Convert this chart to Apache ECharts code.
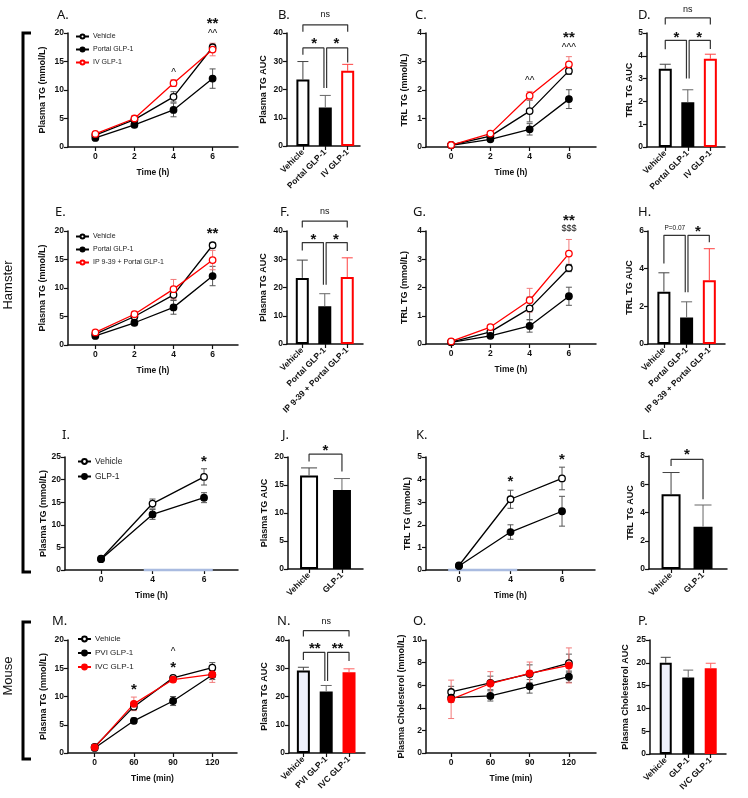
<!DOCTYPE html>
<html><head><meta charset="utf-8">
<script src="https://cdn.jsdelivr.net/npm/echarts@6/dist/echarts.min.js"></script>
<style>html,body{margin:0;padding:0;background:#fff}#c{width:748px;height:798px}</style>
</head><body><div id="c"></div>
<script>
// ---------------- DATA ----------------
// Panel A: Plasma TG (mmol/L) vs time (h)
const timeH = ['0', '2', '4', '6'];
const aVeh = [2.1, 4.8, 8.8, 17.5],   aVehErr = [0.3, 0.5, 0.9, 0.4];
const aPortal = [1.6, 3.9, 6.5, 12.0], aPortalErr = [0.2, 0.5, 1.2, 1.7];
const aIV = [2.3, 5.0, 11.2, 17.1],   aIVErr = [0.2, 0.5, 0.6, 1.1];
const aMarks = [[2, 13.4, '^'], [3, 22.3, '**'], [3, 20.2, '^^']];
// Panel B: Plasma TG AUC
const bCats = ['Vehicle', 'Portal GLP-1', 'IV GLP-1'];
const bAUC = [23.5, 13.6, 26.6], bErr = [6.4, 4.3, 2.3];
const bBrackets = [[[0, 40.4], [0, 42.9], [2, 42.9], [2, 40.4]],
                   [[0, 32.3], [0, 34.7], [0.94, 34.7], [0.94, 20.5]],
                   [[1.06, 20.5], [1.06, 34.7], [2, 34.7], [2, 29.6]]];
const bMarks = [[1, 46.5, 'ns'], [0.5, 37.5, '*'], [1.5, 37.5, '*']];
// Panel C: TRL TG (mmol/L)
const cVeh = [0.07, 0.38, 1.26, 2.67],    cVehErr = [0.03, 0.05, 0.38, 0.12];
const cPortal = [0.06, 0.27, 0.62, 1.68], cPortalErr = [0.02, 0.05, 0.2, 0.33];
const cIV = [0.07, 0.47, 1.8, 2.9],       cIVErr = [0.03, 0.05, 0.15, 0.27];
const cMarks = [[2, 2.4, '^^'], [3, 3.95, '**'], [3, 3.55, '^^^']];
// Panel D: TRL TG AUC
const dAUC = [3.43, 1.96, 3.87], dErr = [0.2, 0.55, 0.2];
const dBrackets = [[[0, 5.37], [0, 5.66], [2, 5.66], [2, 5.37]],
                   [[0, 4.29], [0, 4.68], [0.94, 4.68], [0.94, 3.0]],
                   [[1.06, 3.0], [1.06, 4.68], [2, 4.68], [2, 4.3]]];
const dMarks = [[1, 6.05, 'ns'], [0.5, 4.95, '*'], [1.5, 4.95, '*']];
// Panel E
const eVeh = [1.9, 5.0, 8.8, 17.5],    eVehErr = [0.3, 0.4, 0.9, 0.4];
const ePortal = [1.6, 3.9, 6.6, 12.1], ePortalErr = [0.2, 0.5, 1.2, 1.7];
const eIP = [2.2, 5.4, 9.8, 14.9],     eIPErr = [0.2, 0.5, 1.7, 1.7];
const eMarks = [[3, 20.2, '**']];
// Panel F
const fCats = ['Vehicle', 'Portal GLP-1', 'IP 9-39 + Portal GLP-1'];
const fAUC = [23.4, 13.4, 23.7], fErr = [6.3, 4.4, 6.8];
const fBrackets = [[[0, 41.2], [0, 43.5], [2, 43.5], [2, 41.2]],
                   [[0, 33.1], [0, 35.9], [0.94, 35.9], [0.94, 21.0]],
                   [[1.06, 21.0], [1.06, 35.9], [2, 35.9], [2, 32.9]]];
const fMarks = [[1, 46.8, 'ns'], [0.5, 38.3, '*'], [1.5, 38.3, '*']];
// Panel G
const gVeh = [0.07, 0.43, 1.26, 2.69],   gVehErr = [0.03, 0.05, 0.4, 0.13];
const gPortal = [0.06, 0.29, 0.64, 1.69], gPortalErr = [0.02, 0.05, 0.22, 0.32];
const gIP = [0.09, 0.6, 1.55, 3.2],      gIPErr = [0.03, 0.06, 0.42, 0.5];
const gMarks = [[3, 4.5, '**'], [3, 4.08, '$$$']];
// Panel H
const hAUC = [2.78, 1.41, 3.39], hErr = [1.0, 0.83, 1.67];
const hBrackets = [[[0, 4.27], [0, 5.77], [0.94, 5.77], [0.94, 2.75]],
                   [[1.06, 2.75], [1.06, 5.77], [2, 5.77], [2, 5.4]]];
const hMarks = [[0.48, 6.17, 'P=0.07'], [1.5, 6.17, '*']];
// Panel I
const timeI = ['0', '4', '6'];
const iVeh = [2.5, 14.7, 20.6], iVehErr = [0.3, 1.0, 1.8];
const iGLP = [2.4, 12.3, 16.0], iGLPErr = [0.3, 1.1, 1.1];
const iMarks = [[2, 24.8, '*']];
const iInfusion = [0.83, 2.17];
// Panel J
const jCats = ['Vehicle', 'GLP-1'];
const jAUC = [16.7, 14.1], jErr = [1.35, 2.05];
const jBrackets = [[[0, 19.2], [0, 20.5], [1, 20.5], [1, 17.4]]];
const jMarks = [[0.5, 21.8, '*']];
// Panel K
const kVeh = [0.2, 3.13, 4.05], kVehErr = [0.05, 0.4, 0.5];
const kGLP = [0.18, 1.68, 2.6], kGLPErr = [0.05, 0.32, 0.66];
const kMarks = [[1, 4.05, '*'], [2, 5.05, '*']];
const kInfusion = [-0.21, 1.13];
// Panel L
const lAUC = [5.3, 3.0], lErr = [1.53, 1.53];
const lBrackets = [[[0, 7.3], [0, 7.76], [1, 7.76], [1, 4.94]]];
const lMarks = [[0.5, 8.35, '*']];
// Panel M
const timeM = ['0', '60', '90', '120'];
const mVeh = [1.1, 8.2, 13.3, 15.1], mVehErr = [0.3, 0.5, 0.4, 0.9];
const mPVI = [0.9, 5.7, 9.2, 13.8],  mPVIErr = [0.2, 0.5, 0.8, 0.8];
const mIVC = [1.0, 8.7, 13.0, 13.9], mIVCErr = [0.3, 1.2, 0.5, 1.4];
const mMarks = [[1, 11.9, '*'], [2, 18.2, '^'], [2, 15.8, '*']];
// Panel N
const nCats = ['Vehicle', 'PVI GLP-1', 'IVC GLP-1'];
const nAUC = [29.2, 21.8, 28.6], nErr = [1.15, 2.1, 1.2];
const nBrackets = [[[0, 41.2], [0, 43.3], [2, 43.3], [2, 41.2]],
                   [[0, 32.9], [0, 35.6], [0.94, 35.6], [0.94, 25.5]],
                   [[1.06, 25.5], [1.06, 35.6], [2, 35.6], [2, 32.6]]];
const nMarks = [[1, 46.4, 'ns'], [0.5, 38.3, '**'], [1.5, 38.3, '**']];
// Panel O: Plasma Cholesterol
const oVeh = [5.4, 6.2, 7.0, 7.95],  oVehErr = [0.5, 0.6, 0.8, 0.8];
const oPVI = [4.9, 5.05, 5.9, 6.75], oPVIErr = [0.4, 0.45, 0.6, 0.5];
const oIVC = [4.75, 6.15, 7.05, 7.75], oIVCErr = [1.7, 1.05, 1.0, 1.55];
// Panel P
const pCats = ['Vehicle', 'GLP-1', 'IVC GLP-1'];
const pAUC = [20.0, 16.8, 18.8], pErr = [1.2, 1.6, 1.1];

// ---------------- BUILD ----------------
const FONT = '"Liberation Sans", Arial, sans-serif';
const grids = [], xAxes = [], yAxes = [], series = [], titles = [], legends = [];

function addPanel(p) {
  const gi = grids.length;
  const [l, t, w, h] = p.rect;
  grids.push({left: l, top: t, width: w, height: h});
  const idx = p.cats.map((c, i) => i);
  xAxes.push({
    gridIndex: gi, type: 'value', min: p.xr[0], max: p.xr[1],
    name: p.xName || '', nameLocation: 'middle', nameGap: 21,
    nameTextStyle: {fontFamily: FONT, fontWeight: 'bold', fontSize: 8.5, color: '#111'},
    axisLine: {show: true, onZero: false, lineStyle: {color: '#111', width: 1.5}},
    axisTick: {show: true, length: 4, customValues: idx, lineStyle: {color: '#111', width: 1.2}},
    axisLabel: {show: true, customValues: idx, formatter: v => (p.cats[Math.round(v)] ?? ''), rotate: p.rot || 0,
                margin: 5, fontFamily: FONT, fontWeight: 'bold', fontSize: 8.5, color: '#111'},
    splitLine: {show: false}
  });
  yAxes.push({
    gridIndex: gi, type: 'value', min: 0, max: p.yMax, interval: p.yStep,
    name: p.yName, nameLocation: 'middle', nameGap: p.yGap,
    nameTextStyle: {fontFamily: FONT, fontWeight: 'bold', fontSize: 9, color: '#111'},
    axisLine: {show: true, onZero: false, lineStyle: {color: '#111', width: 1.5}},
    axisTick: {show: true, length: 4, lineStyle: {color: '#111', width: 1.2}},
    axisLabel: {margin: 4, fontFamily: FONT, fontWeight: 'bold', fontSize: 8.5, color: '#111'},
    splitLine: {show: false}
  });
  titles.push({text: p.letter, left: p.lp[0], top: p.lp[1], padding: 0,
    textStyle: {fontFamily: '"Noto Sans", sans-serif', fontWeight: 'normal', fontSize: 13, color: '#111'}});
  return gi;
}

function errorSeries(gi, vals, errs, colors, upOnly, cap) {
  return {type: 'custom', xAxisIndex: gi, yAxisIndex: gi, silent: true, clip: false, z: upOnly ? 3 : 2,
    data: vals.map((v, i) => [i, v, errs[i]]),
    renderItem: (params, api) => {
      const x = api.value(0), y = api.value(1), e = api.value(2);
      const t = api.coord([x, y + e]), b = api.coord([x, upOnly ? y : y - e]);
      const col = Array.isArray(colors) ? colors[params.dataIndex] : colors;
      const st = {stroke: col, lineWidth: 1};
      const ch = [{type: 'line', shape: {x1: t[0], y1: t[1], x2: b[0], y2: b[1]}, style: st},
                  {type: 'line', shape: {x1: t[0] - cap, y1: t[1], x2: t[0] + cap, y2: t[1]}, style: st}];
      if (!upOnly) ch.push({type: 'line', shape: {x1: b[0] - cap, y1: b[1], x2: b[0] + cap, y2: b[1]}, style: st});
      return {type: 'group', children: ch};
    }};
}

const ST = {
  veh: {line: '#000', fill: '#fff', err: '#555'},
  glp: {line: '#000', fill: '#000', err: '#555'},
  redOpen: {line: '#ff0000', fill: '#fff', err: '#f27a7a'},
  redFill: {line: '#ff0000', fill: '#ff0000', err: '#f27a7a'}
};
function addLine(gi, name, vals, errs, s) {
  series.push(errorSeries(gi, vals, errs, s.err, false, 3));
  series.push({type: 'line', name: name, xAxisIndex: gi, yAxisIndex: gi, data: vals.map((v, i) => [i, v]),
    symbol: 'circle', symbolSize: 6.5, clip: false, z: 3,
    lineStyle: {color: s.line, width: 1.3}, itemStyle: {color: s.fill, borderColor: s.line, borderWidth: 1.3}});
}

const BS = {
  veh: {fill: '#fff', border: '#000', err: '#444'},
  glp: {fill: '#000', border: '#000', err: '#666'},
  redOpen: {fill: '#fff', border: '#ff0000', err: '#ff4040'},
  vehLight: {fill: '#eef0fb', border: '#000', err: '#444'},
  redFill: {fill: '#ff0000', border: '#ff0000', err: '#ff6060'}
};
function addBars(gi, vals, errs, styles, width) {
  series.push({type: 'bar', name: 'bars' + gi, xAxisIndex: gi, yAxisIndex: gi, barWidth: width, z: 2,
    data: vals.map((v, i) => ({value: [i, v], itemStyle: {color: styles[i].fill, borderColor: styles[i].border, borderWidth: 2}}))});
  series.push(errorSeries(gi, vals, errs, styles.map(s => s.err), true, width / 2 - 1));
}

function addBrackets(gi, brackets) {
  brackets.forEach(b => series.push({type: 'line', xAxisIndex: gi, yAxisIndex: gi, data: b, symbol: 'none',
    silent: true, clip: false, z: 4, lineStyle: {color: '#333', width: 1.2}}));
}

function markStyle(txt) {
  if (/^\*+$/.test(txt)) return {size: 15, weight: 'bold', dy: 3.8};
  if (/^\^+$/.test(txt)) return {size: 10, weight: 'normal', dy: 2.5};
  if (txt === 'ns') return {size: 9, weight: 'normal', dy: 0};
  if (txt.startsWith('P=')) return {size: 6.5, weight: 'normal', dy: 0};
  return {size: 9, weight: 'normal', dy: 0};
}
function addMarks(gi, marks) {
  series.push({type: 'custom', xAxisIndex: gi, yAxisIndex: gi, silent: true, clip: false, z: 5,
    data: marks.map(m => [m[0], m[1]]),
    renderItem: (params, api) => {
      const m = marks[params.dataIndex];
      const pt = api.coord([api.value(0), api.value(1)]);
      const s = markStyle(m[2]);
      return {type: 'text', x: pt[0], y: pt[1] + s.dy,
        style: {text: m[2], fontFamily: FONT, fontSize: s.size, fontWeight: s.weight, fill: '#111', align: 'center', verticalAlign: 'middle'}};
    }});
}
function addInfusion(gi, range) {
  series.push({type: 'line', xAxisIndex: gi, yAxisIndex: gi, data: [[range[0], 0], [range[1], 0]], symbol: 'none',
    silent: true, clip: false, z: 1, lineStyle: {color: '#a9bbe0', width: 2.5}});
}
function addLegend(names, left, top, fs, gap, ih) {
  legends.push({data: names, orient: 'vertical', left: left, top: top, itemWidth: 13, itemHeight: ih, itemGap: gap,
    padding: 0, selectedMode: false, textStyle: {fontFamily: FONT, fontSize: fs, color: '#222', padding: [0, 0, 0, -1]}});
}

// ---- Row 1
let g = addPanel({rect: [68, 33, 170, 114], xr: [-0.7, 3.65], cats: timeH, xName: 'Time (h)', yMax: 20, yStep: 5, yName: 'Plasma TG (mmol/L)', yGap: 21, letter: 'A.', lp: [57, 9]});
addLine(g, 'Vehicle', aVeh, aVehErr, ST.veh);
addLine(g, 'Portal GLP-1', aPortal, aPortalErr, ST.glp);
addLine(g, 'IV GLP-1', aIV, aIVErr, ST.redOpen);
addMarks(g, aMarks);
addLegend(['Vehicle', 'Portal GLP-1', 'IV GLP-1'], 75, 33, 7, 6, 5);

g = addPanel({rect: [287, 33, 73, 113], xr: [-0.71, 2.55], cats: bCats, rot: 45, yMax: 40, yStep: 10, yName: 'Plasma TG AUC', yGap: 19, letter: 'B.', lp: [278, 9]});
addBars(g, bAUC, bErr, [BS.veh, BS.glp, BS.redOpen], 13);
addBrackets(g, bBrackets); addMarks(g, bMarks);

g = addPanel({rect: [426, 33, 170, 114], xr: [-0.64, 3.69], cats: timeH, xName: 'Time (h)', yMax: 4, yStep: 1, yName: 'TRL TG (mmol/L)', yGap: 17, letter: 'C.', lp: [415, 9]});
addLine(g, 'Vehicle', cVeh, cVehErr, ST.veh);
addLine(g, 'Portal GLP-1', cPortal, cPortalErr, ST.glp);
addLine(g, 'IV GLP-1', cIV, cIVErr, ST.redOpen);
addMarks(g, cMarks);

g = addPanel({rect: [647, 33, 78, 114], xr: [-0.81, 2.65], cats: bCats, rot: 45, yMax: 5, yStep: 1, yName: 'TRL TG AUC', yGap: 13, letter: 'D.', lp: [638, 9]});
addBars(g, dAUC, dErr, [BS.veh, BS.glp, BS.redOpen], 13);
addBrackets(g, dBrackets); addMarks(g, dMarks);

// ---- Row 2
g = addPanel({rect: [68, 231, 170, 114], xr: [-0.7, 3.65], cats: timeH, xName: 'Time (h)', yMax: 20, yStep: 5, yName: 'Plasma TG (mmol/L)', yGap: 21, letter: 'E.', lp: [55, 206]});
addLine(g, 'Vehicle', eVeh, eVehErr, ST.veh);
addLine(g, 'Portal GLP-1', ePortal, ePortalErr, ST.glp);
addLine(g, 'IP 9-39 + Portal GLP-1', eIP, eIPErr, ST.redOpen);
addMarks(g, eMarks);
addLegend(['Vehicle', 'Portal GLP-1', 'IP 9-39 + Portal GLP-1'], 75, 233, 7, 6, 5);

g = addPanel({rect: [287, 231, 76, 113], xr: [-0.68, 2.7], cats: fCats, rot: 45, yMax: 40, yStep: 10, yName: 'Plasma TG AUC', yGap: 19, letter: 'F.', lp: [280, 206]});
addBars(g, fAUC, fErr, [BS.veh, BS.glp, BS.redOpen], 13);
addBrackets(g, fBrackets); addMarks(g, fMarks);

g = addPanel({rect: [426, 231, 170, 113], xr: [-0.64, 3.69], cats: timeH, xName: 'Time (h)', yMax: 4, yStep: 1, yName: 'TRL TG (mmol/L)', yGap: 17, letter: 'G.', lp: [413, 206]});
addLine(g, 'Vehicle', gVeh, gVehErr, ST.veh);
addLine(g, 'Portal GLP-1', gPortal, gPortalErr, ST.glp);
addLine(g, 'IP 9-39 + Portal GLP-1', gIP, gIPErr, ST.redOpen);
addMarks(g, gMarks);

g = addPanel({rect: [648, 231, 77, 113], xr: [-0.7, 2.69], cats: fCats, rot: 45, yMax: 6, yStep: 2, yName: 'TRL TG AUC', yGap: 14, letter: 'H.', lp: [638, 206]});
addBars(g, hAUC, hErr, [BS.veh, BS.glp, BS.redOpen], 13);
addBrackets(g, hBrackets); addMarks(g, hMarks);

// ---- Row 3
g = addPanel({rect: [65, 457, 173, 113], xr: [-0.7, 2.66], cats: timeI, xName: 'Time (h)', yMax: 25, yStep: 5, yName: 'Plasma TG (mmol/L)', yGap: 17, letter: 'I.', lp: [62, 429]});
addInfusion(g, iInfusion);
addLine(g, 'Vehicle', iVeh, iVehErr, ST.veh);
addLine(g, 'GLP-1', iGLP, iGLPErr, ST.glp);
addMarks(g, iMarks);
addLegend(['Vehicle', 'GLP-1'], 77, 457, 8.5, 6, 6);

g = addPanel({rect: [288, 457, 75, 112], xr: [-0.64, 1.64], cats: jCats, rot: 45, yMax: 20, yStep: 5, yName: 'Plasma TG AUC', yGap: 19, letter: 'J.', lp: [282, 429]});
addBars(g, jAUC, jErr, [BS.veh, BS.glp], 18);
addBrackets(g, jBrackets); addMarks(g, jMarks);

g = addPanel({rect: [426, 457, 169, 113], xr: [-0.64, 2.64], cats: timeI, xName: 'Time (h)', yMax: 5, yStep: 1, yName: 'TRL TG (mmol/L)', yGap: 14, letter: 'K.', lp: [416, 429]});
addInfusion(g, kInfusion);
addLine(g, 'Vehicle', kVeh, kVehErr, ST.veh);
addLine(g, 'GLP-1', kGLP, kGLPErr, ST.glp);
addMarks(g, kMarks);

g = addPanel({rect: [649, 456, 78, 113], xr: [-0.69, 1.75], cats: jCats, rot: 45, yMax: 8, yStep: 2, yName: 'TRL TG AUC', yGap: 14, letter: 'L.', lp: [642, 429]});
addBars(g, lAUC, lErr, [BS.veh, BS.glp], 19);
addBrackets(g, lBrackets); addMarks(g, lMarks);

// ---- Row 4
g = addPanel({rect: [68, 640, 169, 113], xr: [-0.68, 3.63], cats: timeM, xName: 'Time (min)', yMax: 20, yStep: 5, yName: 'Plasma TG (mmol/L)', yGap: 20, letter: 'M.', lp: [52, 615]});
addLine(g, 'Vehicle', mVeh, mVehErr, ST.veh);
addLine(g, 'PVI GLP-1', mPVI, mPVIErr, ST.glp);
addLine(g, 'IVC GLP-1', mIVC, mIVCErr, ST.redFill);
addMarks(g, mMarks);
addLegend(['Vehicle', 'PVI GLP-1', 'IVC GLP-1'], 77, 635, 8, 6, 6);

g = addPanel({rect: [289, 640, 76, 113], xr: [-0.63, 2.7], cats: nCats, rot: 45, yMax: 40, yStep: 10, yName: 'Plasma TG AUC', yGap: 20, letter: 'N.', lp: [277, 615]});
addBars(g, nAUC, nErr, [BS.vehLight, BS.glp, BS.redFill], 13);
addBrackets(g, nBrackets); addMarks(g, nMarks);

g = addPanel({rect: [426, 640, 170, 113], xr: [-0.64, 3.69], cats: timeM, xName: 'Time (min)', yMax: 10, yStep: 2, yName: 'Plasma Cholesterol (mmol/L)', yGap: 20, letter: 'O.', lp: [413, 615]});
addLine(g, 'Vehicle', oVeh, oVehErr, ST.veh);
addLine(g, 'PVI GLP-1', oPVI, oPVIErr, ST.glp);
addLine(g, 'IVC GLP-1', oIVC, oIVCErr, ST.redFill);

g = addPanel({rect: [650, 640, 76, 114], xr: [-0.7, 2.68], cats: pCats, rot: 45, yMax: 25, yStep: 5, yName: 'Plasma Cholesterol AUC', yGap: 20, letter: 'P.', lp: [638, 615]});
addBars(g, pAUC, pErr, [BS.vehLight, BS.glp, BS.redFill], 12);

// ---- Species brackets and labels (decoration)
const graphics = [
  {type: 'polyline', shape: {points: [[31, 33], [23, 33], [23, 572], [31, 572]]}, style: {stroke: '#000', lineWidth: 3, fill: null}},
  {type: 'polyline', shape: {points: [[31, 622], [23, 622], [23, 759], [31, 759]]}, style: {stroke: '#000', lineWidth: 3, fill: null}},
  {type: 'text', x: 8, y: 285, rotation: Math.PI / 2, style: {text: 'Hamster', font: '13px "Liberation Sans", Arial, sans-serif', fill: '#111', align: 'center', verticalAlign: 'middle'}},
  {type: 'text', x: 8, y: 676, rotation: Math.PI / 2, style: {text: 'Mouse', font: '13px "Liberation Sans", Arial, sans-serif', fill: '#111', align: 'center', verticalAlign: 'middle'}}
];

const chart = echarts.init(document.getElementById('c'), null, {renderer: 'canvas'});
chart.setOption({
  animation: false, backgroundColor: '#fff',
  title: titles, legend: legends, grid: grids, xAxis: xAxes, yAxis: yAxes, series: series, graphic: graphics
});
</script></body></html>
